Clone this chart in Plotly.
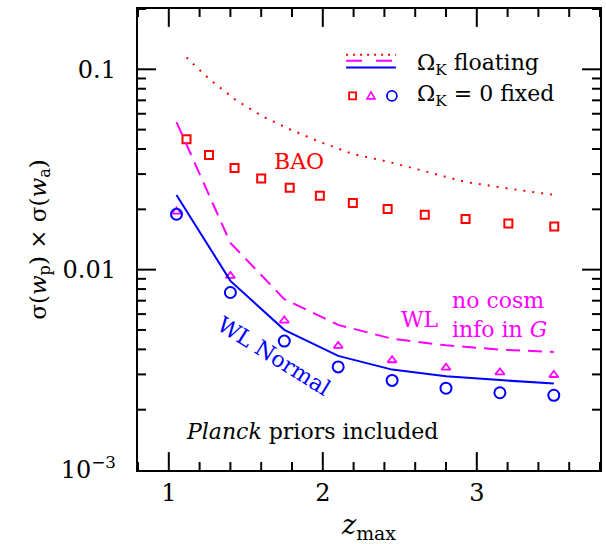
import math
import plotly.graph_objects as go

# ---------------- data ----------------
z_bao = [1.115, 1.261, 1.427, 1.600, 1.785, 1.981, 2.195, 2.421, 2.662, 2.927, 3.205, 3.503]
bao_fixed = [0.0447, 0.0373, 0.0322, 0.0285, 0.0256, 0.0234, 0.0215, 0.0201, 0.0188, 0.0179, 0.0170, 0.0164]
bao_float = [0.1146, 0.0896, 0.0710, 0.0587, 0.0502, 0.0434, 0.0378, 0.0346, 0.0310, 0.0274, 0.0254, 0.0236]

z_wl = [1.05, 1.40, 1.75, 2.10, 2.45, 2.80, 3.15, 3.50]
wl_normal_float = [0.0236, 0.00879, 0.00501, 0.00371, 0.00317, 0.00294, 0.00281, 0.00270]
wl_normal_fixed = [0.0189, 0.00769, 0.00440, 0.00327, 0.00280, 0.00256, 0.00243, 0.00236]
wl_nocosm_float = [0.0545, 0.0136, 0.00713, 0.00530, 0.00452, 0.00419, 0.00399, 0.00388]
wl_nocosm_fixed = [0.0195, 0.00931, 0.00557, 0.00416, 0.00353, 0.00324, 0.00307, 0.00298]

y_tickvals = [0.001, 0.01, 0.1]
y_ticktext = ["10<sup>−3</sup>", "0.01", "0.1"]
x_tickvals = [1, 2, 3]
x_ticktext = ["1", "2", "3"]

RED = "#ff0000"
MAG = "#ff00ff"
BLUE = "#0000ff"
FONT = "DejaVu Serif"
XR = [0.8, 3.8]
YR = [-3, -0.699]
TW = 2

# plot-area geometry (px)
W, H = 464.0, 464.0
L = 138.0
MAJ, MIN = 18.0, 8.0

x_minor = [round(0.8 + 0.2 * i, 2) for i in range(16) if abs((0.8 + 0.2 * i) - round(0.8 + 0.2 * i)) > 1e-6]
y_minor = [k * 10 ** e for e in (-3, -2, -1) for k in range(2, 10) if k * 10 ** e <= 0.2]

fig = go.Figure()

# ---------------- frame ticks (inward, all four sides) drawn as a line trace ----------------
dx_per_px = (XR[1] - XR[0]) / W
dlog_per_px = (YR[1] - YR[0]) / H
ybot, ytop = 10 ** YR[0], 10 ** YR[1]
tx, ty = [], []
for v, ln in [(v, MAJ) for v in x_tickvals] + [(v, MIN) for v in x_minor]:
    tx += [v, v, None, v, v, None]
    ty += [ybot, 10 ** (YR[0] + ln * dlog_per_px), None, ytop, 10 ** (YR[1] - ln * dlog_per_px), None]
for v, ln in [(v, MAJ) for v in y_tickvals[1:]] + [(v, MIN) for v in y_minor]:
    tx += [XR[0], XR[0] + ln * dx_per_px, None, XR[1], XR[1] - ln * dx_per_px, None]
    ty += [v, v, None, v, v, None]
fig.add_trace(go.Scatter(x=tx, y=ty, mode="lines", line=dict(color="black", width=TW),
                         hoverinfo="skip", showlegend=False, connectgaps=False))

# ---------------- data traces ----------------
fig.add_trace(go.Scatter(x=z_bao, y=bao_float, mode="lines",
                         line=dict(color=RED, width=2, dash="2px,7px"), showlegend=False))
fig.add_trace(go.Scatter(x=z_bao, y=bao_fixed, mode="markers",
                         marker=dict(symbol="square-open", size=8, color=RED, line=dict(width=2)),
                         showlegend=False))
fig.add_trace(go.Scatter(x=z_wl, y=wl_nocosm_float, mode="lines",
                         line=dict(color=MAG, width=2, dash="14px,8px"), showlegend=False))
fig.add_trace(go.Scatter(x=z_wl, y=wl_nocosm_fixed, mode="markers",
                         marker=dict(symbol="triangle-up-open", size=8, color=MAG, line=dict(width=1.8)),
                         showlegend=False))
fig.add_trace(go.Scatter(x=z_wl, y=wl_normal_float, mode="lines",
                         line=dict(color=BLUE, width=2), showlegend=False))
fig.add_trace(go.Scatter(x=z_wl, y=wl_normal_fixed, mode="markers",
                         marker=dict(symbol="circle-open", size=11, color=BLUE, line=dict(width=2)),
                         showlegend=False))


def px(x):
    return (x - L) / W


def py(y):
    return (473.0 - y) / H


# ---------------- legend (hand-drawn, paper coords) ----------------
shapes = []
shapes.append(dict(type="line", xref="paper", yref="paper", x0=px(347), x1=px(397), y0=py(55), y1=py(55),
                   line=dict(color=RED, width=2, dash="2px,5px")))
shapes.append(dict(type="line", xref="paper", yref="paper", x0=px(347), x1=px(397), y0=py(61), y1=py(61),
                   line=dict(color=MAG, width=2, dash="16px,14px")))
shapes.append(dict(type="line", xref="paper", yref="paper", x0=px(347), x1=px(397), y0=py(68), y1=py(68),
                   line=dict(color=BLUE, width=2)))
shapes.append(dict(type="rect", xref="paper", yref="paper", x0=px(350), x1=px(357), y0=py(100), y1=py(93),
                   line=dict(color=RED, width=1.8)))
shapes.append(dict(type="path", xref="paper", yref="paper",
                   path=f"M {px(368)},{py(99.5)} L {px(376)},{py(99.5)} L {px(372)},{py(92.5)} Z",
                   line=dict(color=MAG, width=1.6)))
shapes.append(dict(type="circle", xref="paper", yref="paper", x0=px(388), x1=px(398), y0=py(101.5), y1=py(91.5),
                   line=dict(color=BLUE, width=1.8)))

AF = 22
annotations = [
    dict(xref="paper", yref="paper", x=px(416), y=py(65), xanchor="left", yanchor="middle",
         text="Ω<sub>K</sub> floating", showarrow=False, font=dict(size=AF, color="black", family=FONT)),
    dict(xref="paper", yref="paper", x=px(416), y=py(96), xanchor="left", yanchor="middle",
         text="Ω<sub>K</sub> = 0 fixed", showarrow=False, font=dict(size=AF, color="black", family=FONT)),
    dict(x=1.847, y=-1.46, text="BAO", showarrow=False, font=dict(size=AF, color=RED, family=FONT)),
    dict(x=2.633, y=-2.248, text="WL", showarrow=False, font=dict(size=AF, color=MAG, family=FONT)),
    dict(x=3.145, y=-2.225, text="no cosm<br>info in <i>G</i>", align="left", showarrow=False,
         font=dict(size=AF, color=MAG, family=FONT)),
    dict(x=1.686, y=-2.431, text="WL Normal", textangle=32, showarrow=False,
         font=dict(size=AF, color=BLUE, family=FONT)),
    dict(x=1.931, y=-2.807, text="<i>Planck</i> priors included", showarrow=False,
         font=dict(size=AF, color="black", family=FONT)),
]

fig.update_layout(
    width=606, height=544,
    margin=dict(l=138, r=4, t=9, b=71),
    paper_bgcolor="white", plot_bgcolor="white",
    font=dict(family=FONT, color="black", size=22),
    shapes=shapes, annotations=annotations,
    showlegend=False,
)

fig.update_layout(
    xaxis=dict(
        range=XR, showgrid=False, zeroline=False,
        showline=True, linecolor="black", linewidth=2, mirror=True,
        ticks="", tickmode="array", tickvals=x_tickvals, ticktext=x_ticktext,
        tickfont=dict(size=24, family=FONT),
        title=dict(text="<i>z</i><sub>max</sub>", font=dict(size=27, family=FONT), standoff=14),
    ),
    yaxis=dict(
        type="log", range=YR, showgrid=False, zeroline=False,
        showline=True, linecolor="black", linewidth=2, mirror=True,
        ticks="", tickmode="array", tickvals=y_tickvals, ticktext=[t + "  " for t in y_ticktext],
        tickfont=dict(size=24, family=FONT),
        title=dict(text="σ(<i>w</i><sub>p</sub>) × σ(<i>w</i><sub>a</sub>)", font=dict(size=23, family=FONT),
                   standoff=8),
    ),
)

fig.write_html("out.html")
